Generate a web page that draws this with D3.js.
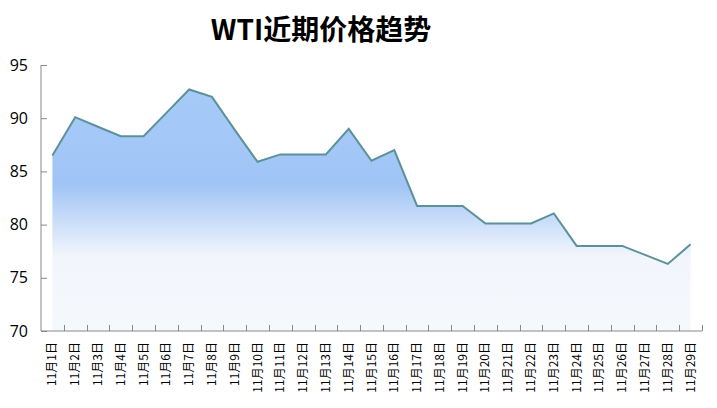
<!DOCTYPE html>
<html><head><meta charset="utf-8">
<script src="https://cdn.jsdelivr.net/npm/d3@7"></script>
<style>body{margin:0;background:#fff}svg{display:block}</style>
</head><body>
<svg id="c" width="717" height="408"></svg>
<script>
const title = "WTI近期价格趋势";
const categories = ["11月1日","11月2日","11月3日","11月4日","11月5日","11月6日","11月7日","11月8日","11月9日","11月10日","11月11日","11月12日","11月13日","11月14日","11月15日","11月16日","11月17日","11月18日","11月19日","11月20日","11月21日","11月22日","11月23日","11月24日","11月25日","11月26日","11月27日","11月28日","11月29日"];
const prices = [86.5,90.1,89.2,88.3,88.3,90.5,92.7,92.0,88.9,85.9,86.6,86.6,86.6,89.0,86.0,87.0,81.75,81.75,81.75,80.1,80.1,80.1,81.05,78.0,78.0,78.0,77.15,76.3,78.15];
const yTicks = [70,75,80,85,90,95];

const svg = d3.select("#c");
const L = 41, R = 702, T = 65, B = 331;
const x = d3.scaleBand().domain(categories).range([L, R]);
const y = d3.scaleLinear().domain([70, 95]).range([B, T]);
const cx = d => x(d) + x.bandwidth() / 2;

const defs = svg.append("defs");
const g = defs.append("linearGradient").attr("id", "fillg")
  .attr("gradientUnits", "userSpaceOnUse")
  .attr("x1", 0).attr("x2", 0).attr("y1", T).attr("y2", B);
[[0, "#a9cdf9"], [0.45, "#a0c4f5"], [0.72, "#f2f6fc"], [1, "#f5f9fd"]].forEach(s =>
  g.append("stop").attr("offset", s[0]).attr("stop-color", s[1]));

const data = categories.map((c, i) => ({c, v: prices[i]}));
svg.append("path").datum(data)
  .attr("d", d3.area().x(d => cx(d.c)).y0(y(70)).y1(d => y(d.v)))
  .attr("fill", "url(#fillg)");
svg.append("path").datum(data)
  .attr("d", d3.line().x(d => cx(d.c)).y(d => y(d.v)))
  .attr("fill", "none").attr("stroke", "#5b929a").attr("stroke-width", 2)
  .attr("stroke-linejoin", "miter");

// y axis
const ya = svg.append("g").attr("transform", `translate(${L},0)`)
  .call(d3.axisLeft(y).tickValues(yTicks).tickSize(-6).tickPadding(13).tickFormat(d3.format("d")));
ya.select(".domain").attr("stroke", "#888").attr("d", `M0,${T}V${B}`);
ya.selectAll(".tick line").attr("stroke", "#888");
ya.selectAll("text").attr("font-family", "Open Sans, Liberation Sans, sans-serif").attr("font-size", 16).attr("fill", "#000");

// x axis
const xa = svg.append("g").attr("transform", `translate(0,${B})`);
xa.append("line").attr("x1", L).attr("x2", R).attr("y1", 0).attr("y2", 0).attr("stroke", "#888");
xa.selectAll("line.tk").data(categories).enter().append("line")
  .attr("class", "tk")
  .attr("x1", d => Math.round(x(d) + x.bandwidth()) + 0.5)
  .attr("x2", d => Math.round(x(d) + x.bandwidth()) + 0.5)
  .attr("y1", 0).attr("y2", -6).attr("stroke", "#888");
xa.selectAll("text").data(categories).enter().append("text")
  .attr("transform", d => `translate(${cx(d) + 4},11) rotate(-90)`)
  .attr("text-anchor", "end")
  .attr("font-family", "Noto Sans CJK SC, sans-serif").attr("font-size", 12)
  .attr("fill", "#000").text(d => d);

svg.append("text").attr("x", 321).attr("y", 40).attr("text-anchor", "middle")
  .attr("font-family", "Noto Sans CJK SC, sans-serif").attr("font-weight", "bold")
  .attr("font-size", 28).attr("fill", "#000").text(title);
</script>
</body></html>
